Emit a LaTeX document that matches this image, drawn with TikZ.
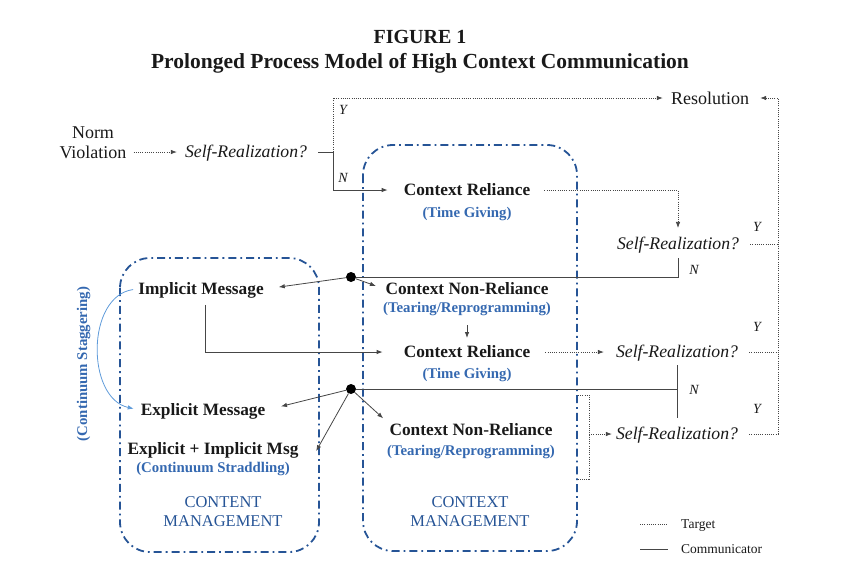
\documentclass[tikz,border=0pt]{standalone}
\usepackage{fontspec}
\setmainfont{Liberation Serif}
\usetikzlibrary{arrows.meta,calc}

\definecolor{boxblue}{RGB}{38,84,150}
\definecolor{subblue}{RGB}{52,104,176}
\definecolor{stagblue}{RGB}{95,155,218}
\definecolor{linegray}{RGB}{70,70,70}
\definecolor{txt}{RGB}{25,25,25}

\begin{document}
\begin{tikzpicture}[x=1pt,y=-1pt,>={Latex[length=6pt,width=4.5pt]}]
	
	\tikzset{main/.style={font=\bfseries\fontsize{17.3}{20}\selectfont, text=txt, text height=11.5pt, text depth=0pt, inner sep=1pt}}
	\tikzset{sub/.style={font=\bfseries\fontsize{14.8}{17}\selectfont, text=subblue, text height=10pt, text depth=0pt, inner sep=1pt}}
	\tikzset{ask/.style={font=\itshape\fontsize{17.7}{20}\selectfont, text=txt, text height=11.7pt, text depth=0pt, inner sep=1pt}}
	\tikzset{plain/.style={font=\fontsize{18}{20}\selectfont, text=txt, text height=12pt, text depth=0pt, inner sep=1pt}}
	\tikzset{yn/.style={font=\itshape\fontsize{14}{16}\selectfont, text=txt, text height=9.5pt, text depth=0pt, inner sep=1pt}}
	\tikzset{mgmt/.style={font=\fontsize{16.5}{19}\selectfont, text=boxblue, align=center}}
	\tikzset{legend/.style={font=\fontsize{13.5}{15}\selectfont, text=txt, text height=9pt, text depth=0pt, inner sep=1pt, anchor=west}}
	\tikzset{comm/.style={draw=linegray, line width=0.8pt}}
	\tikzset{target/.style={draw=linegray, line width=0.7pt, dash pattern=on 1pt off 1.2pt}}
	\tikzset{region/.style={draw=boxblue, line width=1.8pt, dash pattern=on 8pt off 4pt on 1.8pt off 4pt, rounded corners=30pt}}
	\tikzset{junction/.style={circle, fill=black, inner sep=0pt, minimum size=10pt}}
	
	\useasboundingbox (0,0) rectangle (866,574);
	
	% title
	\node[font=\bfseries\fontsize{20}{24}\selectfont, text=txt, text height=13pt, text depth=0pt] (fig) at (420,37) {FIGURE 1};
	\node[font=\bfseries\fontsize{21.5}{24}\selectfont, text=txt, text height=14pt, text depth=0pt] (ttl) at (420,61) {Prolonged Process Model of High Context Communication};
	
	% the two regions
	\draw[region] (120,258) rectangle (319,552);
	\draw[region] (363,145) rectangle (577,551);
	
	\node[mgmt] (cntm) at (223,512) {CONTENT\\MANAGEMENT};
	\node[mgmt] (ctxm) at (470,512) {CONTEXT\\MANAGEMENT};
	
	% start
	\node[plain] (norm) at (93,132) {Norm};
	\node[plain] (viol) at (93,152) {Violation};
	\node[ask] (sr0) at (246,152) {Self-Realization?};
	\node[plain] (res) at (710,98) {Resolution};
	
	% context side
	\node[main] (cr1) at (467,190) {Context Reliance};
	\node[sub] (cr1s) at (467,212) {(Time Giving)};
	\node[main] (cnr1) at (467,289) {Context Non-Reliance};
	\node[sub] (cnr1s) at (467,307) {(Tearing/Reprogramming)};
	\node[main] (cr2) at (467,352) {Context Reliance};
	\node[sub] (cr2s) at (467,373) {(Time Giving)};
	\node[main] (cnr2) at (471,430) {Context Non-Reliance};
	\node[sub] (cnr2s) at (471,450) {(Tearing/Reprogramming)};
	
	% content side
	\node[main] (impl) at (201,289) {Implicit Message};
	\node[main] (expl) at (203,410) {Explicit Message};
	\node[main] (eim) at (213,449) {Explicit + Implicit Msg};
	\node[sub] (eims) at (213,467) {(Continuum Straddling)};
	\node[sub, rotate=90] (stag) at (82,364) {(Continuum Staggering)};
	
	% later self-realization
	\node[ask] (sr1) at (678,244) {Self-Realization?};
	\node[ask] (sr2) at (677,352) {Self-Realization?};
	\node[ask] (sr3) at (677,434) {Self-Realization?};
	
	\node[junction] (j1) at (351,277) {};
	\node[junction] (j2) at (351,389) {};
	
	\coordinate (split) at (333,152);
	\coordinate (rail) at (778,98);
	\coordinate (bt) at (578,395);
	\coordinate (bm) at (589,434);
	\coordinate (bb) at (578,479);
	
	% first decision
	\draw[target,->,shorten <=6pt,shorten >=7pt] (viol) -- (sr0);
	\draw[comm,shorten <=10pt] (sr0) -- (split);
	\draw[comm,->,shorten >=15pt] (split) |- (cr1);
	\draw[target,->,shorten >=7pt] (split) |- (res);
	\node[yn] (y0) at (343,110) {Y};
	\node[yn] (n0) at (343,178) {N};
	
	% target side
	\draw[target,->,shorten <=13pt,shorten >=9pt] (cr1) -| (sr1);
	\draw[target,->,shorten <=14pt,shorten >=11pt] (cr2) -- (sr2);
	\draw[target] (bt) -| (bm) |- (bb);
	\draw[target,->,shorten >=3pt] (bm) -- (sr3);
	\draw[target,->,shorten <=10pt,shorten >=10pt] (sr3) -| (rail) -- (res);
	\draw[target,shorten <=10pt] (sr1) -- (sr1 -| rail);
	\draw[target,shorten <=10pt] (sr2) -- (sr2 -| rail);
	\node[yn] (y1) at (757,227) {Y};
	\node[yn] (y2) at (757,327) {Y};
	\node[yn] (y3) at (757,409) {Y};
	
	% communicator side
	\draw[comm,shorten <=7pt] (sr1) |- (j1);
	\draw[comm,shorten <=6pt,shorten >=9pt] (sr2) -- (sr3);
	\draw[comm] (j2) -- (j2 -| sr2);
	\node[yn] (n1) at (694,270) {N};
	\node[yn] (n2) at (694,390) {N};
	
	\draw[comm,->,shorten >=14pt] (j1) -- (impl.east);
	\draw[comm,->,shorten >=9pt] (j1) -- (cnr1.west);
	\draw[comm,->,shorten <=12pt,shorten >=7pt] (cnr1s) -- (cr2);
	\draw[comm,->,shorten <=9pt,shorten >=20pt] ([xshift=4pt]impl.south) |- (cr2);
	\draw[comm,->,shorten >=15pt] (j2) -- (expl.east);
	\draw[comm,->,shorten >=1pt] (j2) -- ($(eim.east)+(16,3)$);
	\draw[comm,->,shorten >=7pt] (j2) -- (cnr2.north west);
	
	% staggering
	\draw[stagblue,line width=0.8pt,->,shorten <=4pt,shorten >=6pt] (impl.west) .. controls (86,296) and (86,398) .. (expl.west);
	
	% legend
	\node[legend] (lgt) at (680,524) {Target};
	\node[legend] (lgc) at (680,549) {Communicator};
	\draw[target] ([xshift=-40pt]lgt.west) -- ([xshift=-12pt]lgt.west);
	\draw[comm] ([xshift=-40pt]lgc.west) -- ([xshift=-12pt]lgc.west);
	
\end{tikzpicture}
\end{document}
